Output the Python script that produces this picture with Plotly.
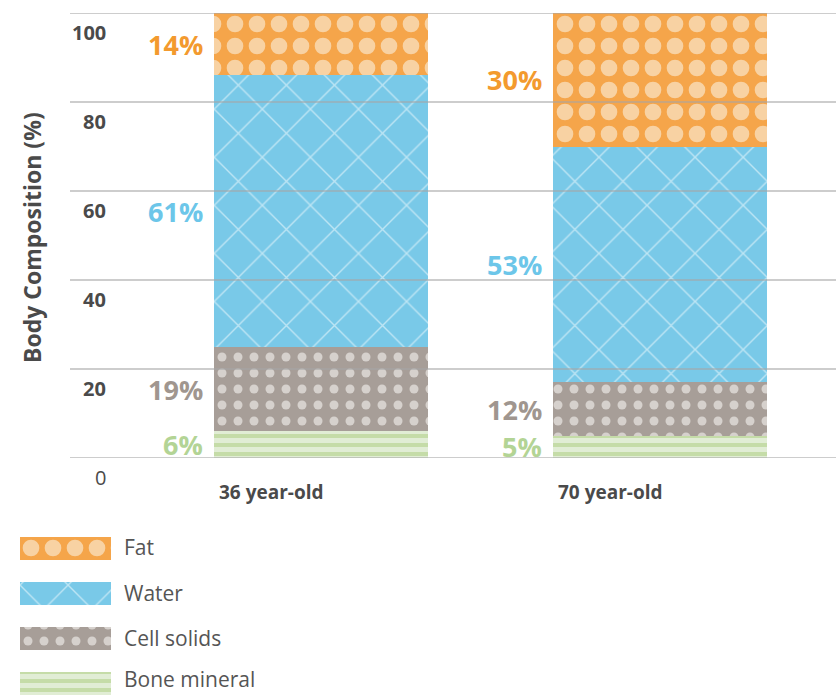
import plotly.graph_objects as go

# ---- data ----
categories = ["36 year-old", "70 year-old"]
series_names = ["Bone mineral", "Cell solids", "Water", "Fat"]
bone = [6, 5]
cell = [19, 12]
water = [61, 53]
fat = [14, 30]
y_ticks = [0, 20, 40, 60, 80, 100]
legend_order = ["Fat", "Water", "Cell solids", "Bone mineral"]

values = {"Bone mineral": bone, "Cell solids": cell, "Water": water, "Fat": fat}

style = {
    "Bone mineral": dict(bg="#C5DCA8", fg="#E1EDD5", shape="-", size=9, sol=0.55, label="#B3D495"),
    "Cell solids": dict(bg="#A79E98", fg="#D6D1CD", shape=".", size=16, sol=0.25, label="#A0968F"),
    "Water": dict(bg="#79C9E8", fg="#BDE5F4", shape="x", size=34, sol=0.08, label="#6CC6E9"),
    "Fat": dict(bg="#F5A54A", fg="#F8D2A3", shape=".", size=22, sol=0.45, label="#F39A2E"),
}

FONT = "Open Sans"
W, H = 836, 695
T = 13
PH = H - T
plot_left = 70
bar_w_px = 214
unit_px = 339
c0 = 321
x_range = [(plot_left - c0) / unit_px, (W - c0) / unit_px]
bar_w = bar_w_px / unit_px

fig = go.Figure()

for name in series_names:
    s = style[name]
    fig.add_trace(go.Bar(
        x=categories, y=values[name], name=name, width=bar_w,
        marker=dict(color=s["bg"], line=dict(width=0),
                    pattern=dict(shape=s["shape"], bgcolor=s["bg"], fgcolor=s["fg"],
                                 fgopacity=1, size=s["size"], solidity=s["sol"])),
        showlegend=False, hoverinfo="skip", xaxis="x", yaxis="y",
    ))

# legend swatches as a small subplot
for name in series_names:
    s = style[name]
    fig.add_trace(go.Bar(
        x=[1], y=[name], orientation="h", width=0.51,
        marker=dict(color=s["bg"], line=dict(width=0),
                    pattern=dict(shape=s["shape"], bgcolor=s["bg"], fgcolor=s["fg"],
                                 fgopacity=1, size=s["size"], solidity=s["sol"])),
        showlegend=False, hoverinfo="skip", xaxis="x2", yaxis="y2",
    ))

annotations = []
# percent labels
for i, cat in enumerate(categories):
    base = 0
    for name in series_names:
        v = values[name][i]
        annotations.append(dict(
            x=cat, y=base + v / 2, xref="x", yref="y", text=f"<b>{v}%</b>",
            xanchor="right", yanchor="middle", xshift=-(bar_w_px / 2 + 9),
            showarrow=False, font=dict(family=FONT, size=27, color=style[name]["label"])))
        base += v
    annotations.append(dict(
        x=cat, y=0, xref="x", yref="y", text=f"<b>{cat}</b>", xanchor="left",
        yanchor="middle", xshift=-bar_w_px / 2 + 3, yshift=-34, showarrow=False,
        font=dict(family=FONT, size=19, color="#4a4a4a")))

# y tick labels
for t in y_ticks:
    annotations.append(dict(
        x=108 / W, y=t, xref="paper", yref="y", text=(f"<b>{t}</b>" if t else f"{t}"),
        xanchor="right", yanchor="middle", yshift=-19, showarrow=False,
        font=dict(family=FONT, size=20, color="#4a4a4a")))

# axis title
annotations.append(dict(
    x=32 / W, y=(H - 238) / PH, xref="paper", yref="paper", text="<b>Body Composition (%)</b>",
    textangle=-90, xanchor="center", yanchor="middle", showarrow=False,
    font=dict(family=FONT, size=23, color="#4a4a4a")))

# legend texts
for name in legend_order:
    annotations.append(dict(
        x=122 / W, y=name, xref="paper", yref="y2", text=name, xanchor="left",
        yanchor="middle", yshift=(5 if name == "Bone mineral" else 1), showarrow=False,
        font=dict(family=FONT, size=21, color="#555555")))

shapes = []
for t in y_ticks:
    shapes.append(dict(type="line", xref="paper", yref="y", x0=plot_left / W, x1=1,
                       y0=t, y1=t, layer="above",
                       line=dict(color="rgba(165,165,165,0.75)", width=1.5)))

row_px = 45.2
y2_bottom = -(H - 684) / row_px
y2_top = y2_bottom + (H - 537) / row_px

fig.update_layout(
    width=W, height=H,
    margin=dict(l=0, r=0, t=T, b=0),
    paper_bgcolor="white", plot_bgcolor="white",
    barmode="stack", bargap=0,
    xaxis=dict(domain=[plot_left / W, 1], range=x_range, showticklabels=False,
               showgrid=False, zeroline=False, showline=False, type="category",
               categoryorder="array", categoryarray=categories),
    yaxis=dict(domain=[(H - 458) / PH, 1], range=[0, 100], showticklabels=False,
               showgrid=False, zeroline=False, showline=False),
    xaxis2=dict(domain=[20 / W, 111 / W], range=[0, 1], anchor="y2", visible=False),
    yaxis2=dict(domain=[0, (H - 537) / PH], range=[y2_bottom, y2_top], anchor="x2",
                type="category", categoryorder="array", categoryarray=series_names,
                visible=False),
    annotations=annotations, shapes=shapes,
    font=dict(family=FONT),
)

fig.write_html("out.html")
